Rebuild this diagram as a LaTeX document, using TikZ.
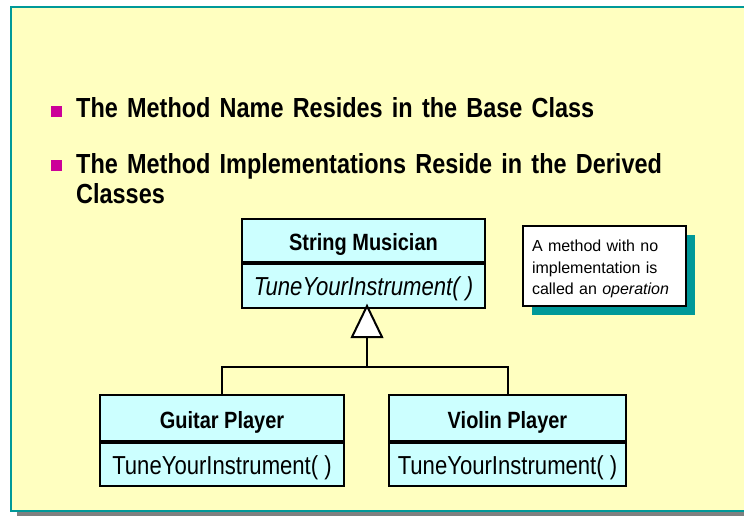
\documentclass[tikz,border=0pt]{standalone}
\usepackage{fontspec}
\setmainfont{Liberation Sans}[FakeStretch=0.85]
\newfontfamily\notefont{Liberation Sans}
\usetikzlibrary{shadows,calc}
\definecolor{panel}{HTML}{FFFFC0}
\definecolor{boxfill}{HTML}{CCFFFF}
\definecolor{tealc}{HTML}{009999}
\definecolor{bulletc}{HTML}{CC0099}
\definecolor{greyc}{HTML}{808080}
\tikzset{
  bulletsq/.style={fill=bulletc, draw=none, minimum size=11.5pt, inner sep=0pt},
  heading/.style={font=\bfseries\fontsize{27.6}{30}\selectfont, inner sep=0pt, align=left, text width=640pt},
  classbox/.style={draw=black, line width=2pt, fill=boxfill, inner sep=0pt, text height=20pt, text depth=0pt},
  namebox/.style={classbox, font=\bfseries\fontsize{23.5}{25}\selectfont},
  methbox/.style={classbox, font=\fontsize{26}{28}\selectfont},
  conn/.style={draw=black, line width=2pt},
  notebox/.style={draw=black, line width=2pt, fill=white, inner xsep=9pt, inner ysep=0pt,
    text width=145pt, minimum height=80pt, align=left, text height=18pt,
    font=\notefont\fontsize{16}{21.5}\selectfont,
    drop shadow={shadow xshift=9pt, shadow yshift=-9pt, fill=tealc, opacity=1}},
}
\begin{document}
\begin{tikzpicture}[x=1pt, y=-1pt]
\useasboundingbox (0,0) rectangle (744,516);
% panel
\fill[greyc] (17,512) rectangle (760,516);
\draw[tealc, line width=2.5pt, fill=panel] (11.2,7.2) rectangle (760,510.8);
% bullets
\node[bulletsq] (b1) at (56.5,111.5) {};
\node[heading, anchor=base west] (h1) at (76,118) {The Method Name Resides in the Base Class};
\node[bulletsq] (b2) at (56.5,165.5) {};
\node[heading, anchor=base west] (h2) at (76,173.3) {The Method Implementations Reside in the Derived Classes};
% base class
\node[namebox, minimum width=243.5pt, minimum height=42.5pt] (sm) at (363.5,240.6) {String Musician};
\node[methbox, minimum width=243.5pt, minimum height=44pt, anchor=north] (smm) at (sm.south) {\itshape TuneYourInstrument( )};
% note
\node[notebox] (note) at (604.5,266) {A method with no implementation is called an \textit{operation}};
% derived classes
\node[namebox, minimum width=244pt, minimum height=46pt] (gp) at (222,418) {Guitar Player};
\node[methbox, minimum width=244pt, minimum height=43pt, anchor=north] (gpm) at (gp.south) {TuneYourInstrument( )};
\node[namebox, minimum width=237pt, minimum height=46pt] (vp) at (507.5,418) {Violin Player};
\node[methbox, minimum width=237pt, minimum height=43pt, anchor=north] (vpm) at (vp.south) {TuneYourInstrument( )};
% generalization
\coordinate (apex) at (367,306);
\coordinate (tb) at (367,337);
\coordinate (j) at (367,367);
\draw[conn] (tb) -- (j);
\draw[conn] (gp.north) |- (j) -| (vp.north);
\draw[conn, fill=white, line join=miter] (apex) -- ($(tb)+(-15,0)$) -- ($(tb)+(15,0)$) -- cycle;
\end{tikzpicture}
\end{document}
